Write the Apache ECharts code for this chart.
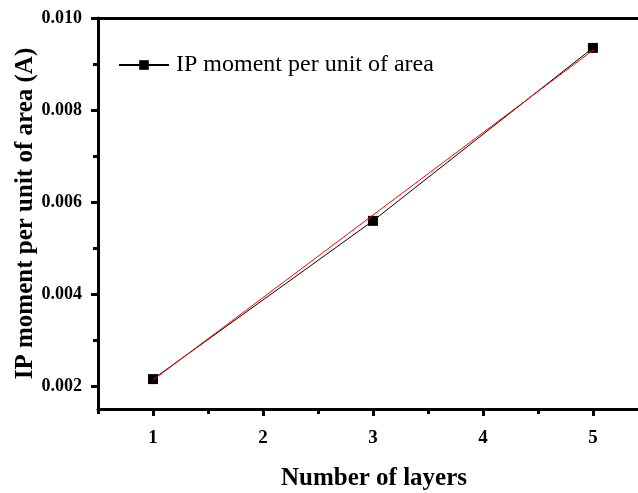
<!DOCTYPE html>
<html>
<head>
<meta charset="utf-8">
<script src="https://cdn.jsdelivr.net/npm/echarts@6/dist/echarts.min.js"></script>
<style>html,body{margin:0;padding:0;background:#fff}#c{width:638px;height:493px}</style>
</head>
<body>
<div id="c"></div>
<script>
var layers = [1, 3, 5];
var ipMoment = [0.00215, 0.00559, 0.00935];
var fitX = [1, 5];
var fitY = [0.00213, 0.00930];
var xTickLabels = [1, 2, 3, 4, 5];
var xMinorTicks = [0.5, 1.5, 2.5, 3.5, 4.5];
var yTickLabels = [0.002, 0.004, 0.006, 0.008, 0.010];
var yMinorTicks = [0.003, 0.005, 0.007, 0.009];

var FONT = '"Liberation Serif", "Times New Roman", serif';
var chart = echarts.init(document.getElementById('c'), null, {renderer: 'canvas'});
var lineStyleAxis = {color: '#000', width: 3};
var XMAX = 5.41;
chart.setOption({
  animation: false,
  backgroundColor: '#fff',
  grid: {left: 98, right: 0, top: 18, bottom: 84, containLabel: false, outerBoundsMode: 'none'},
  legend: {
    left: 113, top: 48,
    itemWidth: 50, itemHeight: 12,
    data: ['IP moment per unit of area'],
    textStyle: {fontFamily: FONT, fontSize: 24, color: '#000', padding: [0, 0, 0, 2]}
  },
  xAxis: [
    {
      type: 'value', position: 'bottom', min: 0.5, max: XMAX,
      axisLine: {show: true, onZero: false, lineStyle: lineStyleAxis},
      axisTick: {show: true, inside: false, length: 7, customValues: xTickLabels, lineStyle: {color: '#000', width: 3}},
      axisLabel: {customValues: xTickLabels, fontFamily: FONT, fontSize: 19, fontWeight: 'bold', color: '#000', margin: 20},
      splitLine: {show: false},
      name: 'Number of layers', nameLocation: 'middle', nameGap: 57, nameMoveOverlap: false,
      nameTextStyle: {fontFamily: FONT, fontSize: 25, fontWeight: 'bold', color: '#000', padding: [0, 0, 0, 12]}
    },
    {
      type: 'value', position: 'bottom', min: 0.5, max: XMAX,
      axisLine: {show: false, onZero: false},
      axisTick: {show: true, inside: false, length: 5, customValues: xMinorTicks, lineStyle: {color: '#000', width: 3}},
      axisLabel: {show: false}, splitLine: {show: false}
    },
    {
      type: 'value', position: 'top', min: 0.5, max: XMAX,
      axisLine: {show: true, onZero: false, lineStyle: lineStyleAxis},
      axisTick: {show: false}, axisLabel: {show: false}, splitLine: {show: false}
    }
  ],
  yAxis: [
    {
      type: 'value', position: 'left', min: 0.0015, max: 0.010,
      axisLine: {show: true, onZero: false, lineStyle: lineStyleAxis},
      axisTick: {show: true, inside: false, length: 7, customValues: yTickLabels, lineStyle: {color: '#000', width: 3}},
      axisLabel: {customValues: yTickLabels, fontFamily: FONT, fontSize: 18, fontWeight: 'bold', color: '#000', margin: 16,
        formatter: function (v) { return Number(v).toFixed(3); }},
      splitLine: {show: false},
      name: 'IP moment per unit of area (A)', nameLocation: 'middle', nameGap: 60, nameRotate: 90, nameMoveOverlap: false,
      nameTextStyle: {fontFamily: FONT, fontSize: 25, fontWeight: 'bold', color: '#000'}
    },
    {
      type: 'value', position: 'left', min: 0.0015, max: 0.010,
      axisLine: {show: false, onZero: false},
      axisTick: {show: true, inside: false, length: 5, customValues: yMinorTicks, lineStyle: {color: '#000', width: 3}},
      axisLabel: {show: false}, splitLine: {show: false}
    }
  ],
  series: [
    {
      name: 'IP moment per unit of area', type: 'line',
      xAxisIndex: 0, yAxisIndex: 0,
      data: layers.map(function (x, i) { return [x, ipMoment[i]]; }),
      symbol: 'rect', symbolSize: 10, showSymbol: true,
      lineStyle: {color: '#000', width: 1},
      itemStyle: {color: '#000'}, z: 2
    },
    {
      name: 'fit', type: 'line',
      xAxisIndex: 0, yAxisIndex: 0,
      data: fitX.map(function (x, i) { return [x, fitY[i]]; }),
      symbol: 'none',
      lineStyle: {color: '#ff0000', width: 1},
      z: 3
    }
  ]
});
</script>
</body>
</html>
